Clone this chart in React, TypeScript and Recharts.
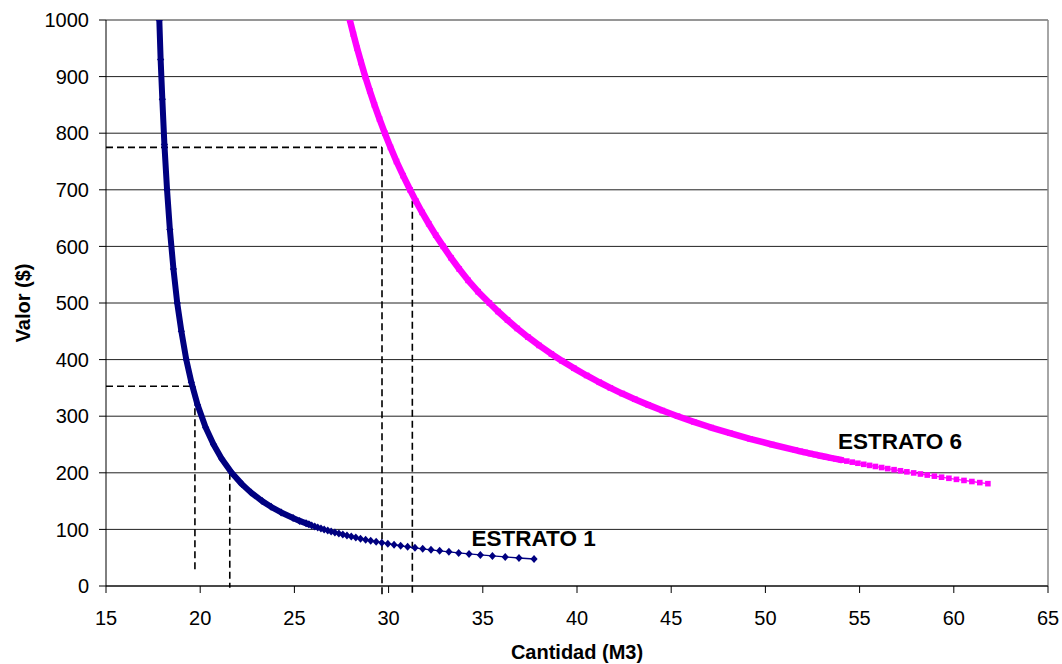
import React from 'react'
import {
  CartesianGrid,
  Label,
  ReferenceDot,
  ReferenceLine,
  Scatter,
  ScatterChart,
  XAxis,
  YAxis
} from 'recharts'

// [cantidad (M3), valor ($)]
const estrato1: [number, number][] = [
  [37.72, 47.7], [36.92, 49.5], [36.19, 51.3], [35.51, 53.1], [34.87, 54.9],
  [34.27, 56.7], [33.72, 58.5], [33.2, 60.3], [32.71, 62.1], [32.25, 63.9],
  [31.81, 65.7], [31.4, 67.5], [31.01, 69.3], [30.64, 71.1], [30.29, 72.9],
  [29.96, 74.7], [29.64, 76.5], [29.34, 78.3], [29.05, 80.1], [28.78, 81.9],
  [28.51, 83.7], [28.26, 85.5], [28.02, 87.3], [27.79, 89.1], [27.57, 90.9],
  [27.36, 92.7], [27.15, 94.5], [26.95, 96.3], [26.77, 98.1], [26.58, 99.9],
  [26.41, 101.7], [26.24, 103.5], [26.08, 105.3], [25.92, 107.1], [25.77, 108.9],
  [25.62, 110.7], [25.28, 115], [24.93, 120], [24.3, 130], [23.76, 140],
  [23.29, 150], [22.7, 165], [22.21, 180], [21.67, 200], [21.14, 225],
  [20.71, 250], [20.29, 280], [19.86, 320], [19.53, 360], [19.26, 400],
  [19.0, 450], [18.78, 500], [18.58, 560], [18.39, 630], [18.24, 700],
  [18.1, 780], [17.99, 860], [17.9, 930], [17.83, 1000]
]

const estrato6: [number, number][] = [
  [61.81, 180.8], [61.38, 182.7], [60.96, 184.6], [60.54, 186.5], [60.14, 188.4],
  [59.74, 190.3], [59.35, 192.2], [58.97, 194.1], [58.59, 196.0], [58.23, 197.9],
  [57.87, 199.8], [57.51, 201.7], [57.17, 203.6], [56.83, 205.5], [56.49, 207.4],
  [56.17, 209.3], [55.84, 211.2], [55.53, 213.1], [55.22, 215.0], [54.91, 216.9],
  [54.61, 218.8], [54.32, 220.7], [54.03, 222.6], [53.74, 224.5], [53.46, 226.4],
  [53.19, 228.3], [52.91, 230.2], [52.65, 232.1], [52.39, 234.0], [52.11, 236.0],
  [51.85, 238.0], [51.59, 240.0], [50.34, 250], [49.18, 260], [48.12, 270],
  [47.12, 280], [46.2, 290], [45.34, 300], [44.53, 310], [43.78, 320],
  [43.07, 330], [42.4, 340], [41.77, 350], [41.18, 360], [40.51, 372],
  [39.83, 385], [39.19, 398], [38.64, 410], [37.99, 425], [37.39, 440],
  [36.83, 455], [36.31, 470], [35.81, 485], [35.35, 500], [34.75, 520],
  [34.22, 540], [33.75, 560], [33.31, 580], [32.9, 600], [32.5, 620],
  [32.13, 640], [31.78, 660], [31.45, 680], [31.14, 700], [30.77, 725],
  [30.42, 750], [30.1, 775], [29.8, 800], [29.52, 825], [29.25, 850],
  [29.0, 875], [28.76, 900], [28.54, 925], [28.33, 950], [28.13, 975],
  [27.94, 1000]
]

// dashed guide segments: [from, to] as [cantidad, valor]
const guias: [number, number][][] = [
  [[15, 775], [29.65, 775]],
  [[29.65, 775], [29.65, -15]],
  [[31.26, 700], [31.26, -15]],
  [[15, 353], [19.72, 353]],
  [[19.72, 353], [19.72, 28]],
  [[21.57, 200], [21.57, -3]]
]

const etiquetas = [
  { texto: 'ESTRATO 1', cantidad: 34.4, valor: 71 },
  { texto: 'ESTRATO 6', cantidad: 53.85, valor: 241.5 }
]

const cantidadTicks = [15, 20, 25, 30, 35, 40, 45, 50, 55, 60, 65]
const valorTicks = [0, 100, 200, 300, 400, 500, 600, 700, 800, 900, 1000]

const FONT = '"Liberation Sans", Arial, sans-serif'
const NAVY = '#000080'
const MAGENTA = '#FF00FF'

const toPoints = (rows: [number, number][]) =>
  rows.map(([cantidad, valor]) => ({ cantidad, valor }))

const serie1 = toPoints(estrato1)
const serie6 = toPoints(estrato6)
// where markers overlap they read as a solid band
const banda1 = serie1.filter((p) => p.valor >= 108)
const banda6 = serie6.filter((p) => p.valor >= 222)

const Diamante = (props: any) => {
  const { cx, cy } = props
  if (cx == null || cy == null) return <g />
  return (
    <path
      d={`M${cx},${cy - 4}L${cx + 3.6},${cy}L${cx},${cy + 4}L${cx - 3.6},${cy}Z`}
      fill={NAVY}
    />
  )
}

const Cuadro = (props: any) => {
  const { cx, cy } = props
  if (cx == null || cy == null) return <g />
  return <rect x={cx - 2.8} y={cy - 2.8} width={5.6} height={5.6} fill={MAGENTA} />
}

const Nada = () => <g />

const TituloX = (props: any) => {
  const { viewBox } = props
  return (
    <text
      x={viewBox.x + viewBox.width / 2}
      y={659}
      textAnchor="middle"
      fontFamily={FONT}
      fontWeight="bold"
      fontSize={20}
      fill="#000"
    >
      Cantidad (M3)
    </text>
  )
}

const TituloY = (props: any) => {
  const { viewBox } = props
  const cy = viewBox.y + viewBox.height / 2
  return (
    <text
      x={30}
      y={cy}
      transform={`rotate(-90, 30, ${cy})`}
      textAnchor="middle"
      fontFamily={FONT}
      fontWeight="bold"
      fontSize={20}
      fill="#000"
    >
      Valor ($)
    </text>
  )
}

export default function App() {
  return (
    <div style={{ position: 'absolute', left: 0, top: 0, background: '#fff' }}>
      <ScatterChart
        width={1062}
        height={664}
        margin={{ top: 20, right: 14, left: 40, bottom: 38 }}
        style={{ fontFamily: FONT }}
      >
        <CartesianGrid vertical={false} stroke="#222" />
        <XAxis
          type="number"
          dataKey="cantidad"
          domain={[15, 65]}
          ticks={cantidadTicks}
          allowDataOverflow
          height={40}
          stroke="#000"
          tickSize={7}
          tickMargin={18}
          tick={{ fill: '#000', fontSize: 20, fontFamily: FONT }}
          label={<Label content={TituloX} />}
        />
        <YAxis
          type="number"
          dataKey="valor"
          domain={[0, 1000]}
          ticks={valorTicks}
          allowDataOverflow
          width={66}
          stroke="#000"
          tickSize={7}
          tickMargin={10}
          tick={{ fill: '#000', fontSize: 20, fontFamily: FONT }}
          label={<Label content={TituloY} />}
        />
        <ReferenceLine y={1000} stroke="#999" strokeWidth={1.5} />
        <ReferenceLine x={65} stroke="#888" strokeWidth={1.5} />
        {guias.map(([a, b], i) => (
          <ReferenceLine
            key={i}
            segment={[
              { x: a[0], y: a[1] },
              { x: b[0], y: b[1] }
            ]}
            ifOverflow="visible"
            stroke="#000"
            strokeWidth={1.6}
            strokeDasharray="7 4"
          />
        ))}
        <Scatter
          data={banda1}
          line={{ stroke: NAVY, strokeWidth: 6, strokeLinejoin: 'round', strokeLinecap: 'round' }}
          lineType="joint"
          shape={Nada}
          isAnimationActive={false}
        />
        <Scatter
          data={serie1}
          fill={NAVY}
          line={{ stroke: NAVY, strokeWidth: 1.3 }}
          lineType="joint"
          shape={Diamante}
          isAnimationActive={false}
        />
        <Scatter
          data={banda6}
          line={{ stroke: MAGENTA, strokeWidth: 6.5, strokeLinejoin: 'round', strokeLinecap: 'round' }}
          lineType="joint"
          shape={Nada}
          isAnimationActive={false}
        />
        <Scatter
          data={serie6}
          fill={MAGENTA}
          line={{ stroke: MAGENTA, strokeWidth: 1.3 }}
          lineType="joint"
          shape={Cuadro}
          isAnimationActive={false}
        />
        {etiquetas.map((e) => (
          <ReferenceDot
            key={e.texto}
            x={e.cantidad}
            y={e.valor}
            r={0}
            shape={(p: any) => (
              <text
                x={p.cx}
                y={p.cy}
                fontFamily={FONT}
                fontWeight="bold"
                fontSize={22.5}
                fill="#000"
              >
                {e.texto}
              </text>
            )}
          />
        ))}
      </ScatterChart>
    </div>
  )
}
